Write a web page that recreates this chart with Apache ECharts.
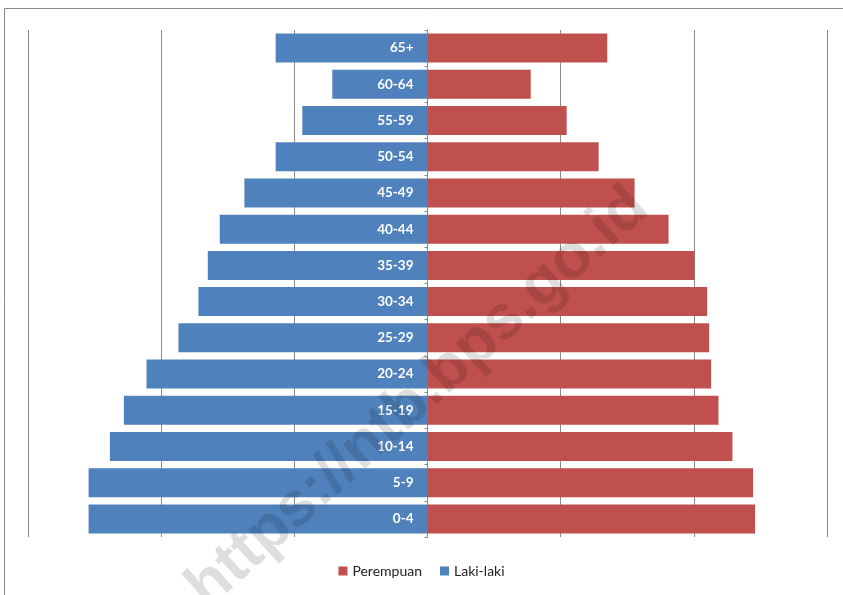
<!DOCTYPE html>
<html>
<head>
<meta charset="utf-8">
<script src="https://cdn.jsdelivr.net/npm/echarts@6/dist/echarts.min.js"></script>
<style>
  html, body { margin: 0; padding: 0; background: #fff; }
  #chart { width: 843px; height: 595px; }
</style>
</head>
<body>
<div id="chart"></div>
<script>
// Age groups, youngest at the bottom
const ageGroups = ['0-4', '5-9', '10-14', '15-19', '20-24', '25-29', '30-34',
                   '35-39', '40-44', '45-49', '50-54', '55-59', '60-64', '65+'];

// Share of population (%) by sex
const lakiLaki  = [5.09, 5.09, 4.77, 4.56, 4.22, 3.74, 3.44, 3.30, 3.12, 2.75, 2.28, 1.88, 1.43, 2.28];
const perempuan = [4.92, 4.89, 4.58, 4.37, 4.26, 4.23, 4.20, 4.01, 3.62, 3.11, 2.57, 2.09, 1.55, 2.70];

const BLUE = '#4F81BD';
const RED = '#C0504D';

const chart = echarts.init(document.getElementById('chart'));

chart.setOption({
  animation: false,
  textStyle: { fontFamily: 'Lato, "Open Sans", sans-serif' },
  grid: { left: 28, right: 16, top: 30, bottom: 58, containLabel: false },
  legend: {
    data: ['Perempuan', 'Laki-laki'],
    bottom: 12,
    left: 'center',
    icon: 'rect',
    itemWidth: 9,
    itemHeight: 9,
    itemGap: 18,
    textStyle: { fontSize: 14, color: '#222', fontFamily: 'Lato, sans-serif' }
  },
  xAxis: {
    type: 'value',
    min: -6,
    max: 6,
    interval: 2,
    axisLabel: { show: false },
    axisLine: { show: false },
    axisTick: { show: false },
    splitLine: { show: true, lineStyle: { color: '#8a8a8a', width: 1 } }
  },
  yAxis: {
    type: 'category',
    data: ageGroups,
    axisLine: { show: true, onZero: true, lineStyle: { color: '#8a8a8a' } },
    axisTick: { show: true, length: 3, lineStyle: { color: '#8a8a8a' } },
    axisLabel: { show: false }
  },
  series: [
    {
      name: 'Laki-laki',
      type: 'bar',
      data: lakiLaki.map(v => -v),
      barWidth: '80%',
      barGap: '-100%',
      itemStyle: { color: BLUE },
      label: {
        show: true,
        position: 'insideRight',
        distance: 14,
        color: '#fff',
        fontWeight: 'bold',
        fontSize: 13.5,
        fontFamily: 'Lato, sans-serif',
        formatter: p => p.name
      }
    },
    {
      name: 'Perempuan',
      type: 'bar',
      data: perempuan,
      barWidth: '80%',
      barGap: '-100%',
      itemStyle: { color: RED }
    }
  ],
  graphic: [
    {
      type: 'rect',
      shape: { x: 4.5, y: 8.5, width: 900, height: 700 },
      style: { fill: 'none', stroke: '#8a8a8a', lineWidth: 1 },
      silent: true,
      z: 0
    },
    {
      type: 'text',
      x: 418,
      y: 398,
      rotation: 42 * Math.PI / 180,
      style: {
        text: 'https://ntb.bps.go.id',
        fontSize: 62,
        fontWeight: 'bold',
        fontFamily: '"Liberation Sans", Arial, sans-serif',
        fill: 'rgba(0,0,0,0.13)',
        align: 'center',
        verticalAlign: 'middle'
      },
      silent: true,
      z: 100
    }
  ]
});
</script>
</body>
</html>
